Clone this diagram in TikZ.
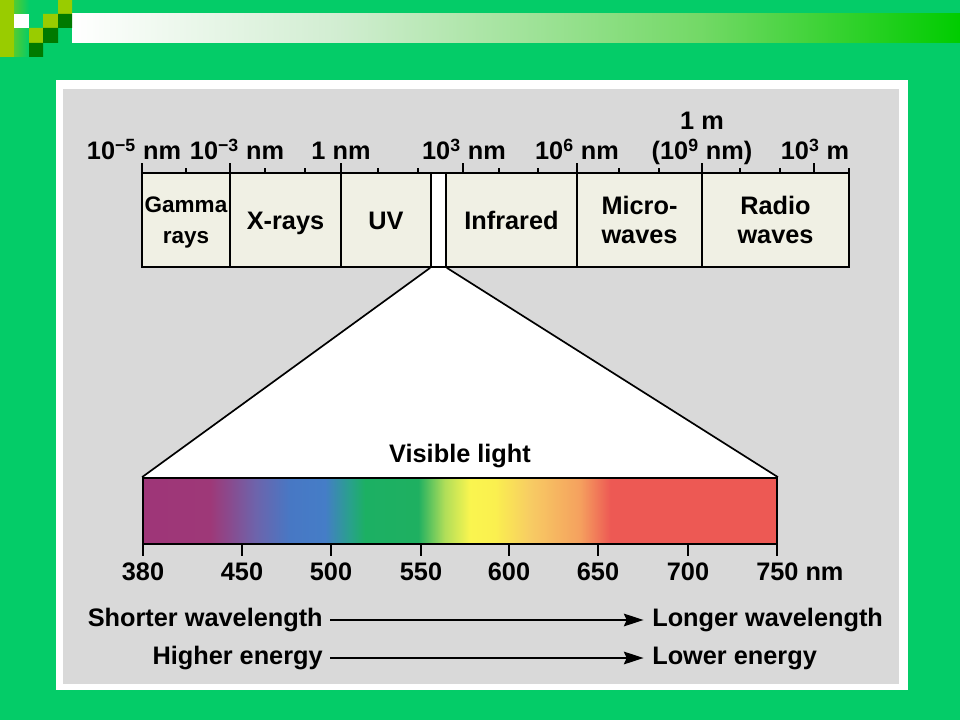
\documentclass[tikz,border=0pt]{standalone}
\usepackage{fontspec}
\setmainfont{Liberation Sans}
\usepackage{xcolor}
\usepackage{tikz}
\usetikzlibrary{arrows.meta, backgrounds}
\definecolor{cgreen} {RGB}{4,204,104}
\definecolor{clime}  {RGB}{153,204,0}
\definecolor{cdark}  {RGB}{0,122,0}
\definecolor{cpanel} {RGB}{217,217,217}
\definecolor{ccream} {RGB}{240,240,228}
\pgfdeclarehorizontalshading{visspec}{100bp}{%
  rgb(0bp)=(.62,.21,.47); rgb(25bp)=(.62,.21,.47); rgb(30.3bp)=(.62,.22,.47);
  rgb(33.85bp)=(.43,.39,.67); rgb(36.6bp)=(.28,.47,.77); rgb(39.35bp)=(.27,.49,.78);
  rgb(41.3bp)=(.16,.63,.55); rgb(42.5bp)=(.11,.69,.39); rgb(46.7bp)=(.12,.69,.38);
  rgb(48.8bp)=(.69,.87,.35); rgb(50.8bp)=(.98,.96,.31); rgb(52.75bp)=(.98,.94,.31);
  rgb(55.5bp)=(.97,.80,.39); rgb(59.45bp)=(.96,.63,.37); rgb(61.85bp)=(.93,.35,.33);
  rgb(75bp)=(.93,.35,.33); rgb(100bp)=(.93,.35,.33)}
\pgfdeclarehorizontalshading{stripe}{100bp}{%
  rgb(0bp)=(1,1,1); rgb(25bp)=(1,1,1); rgb(40bp)=(.82,.93,.82);
  rgb(60.4bp)=(.45,.85,.4); rgb(75bp)=(0,.8,0); rgb(100bp)=(0,.8,0)}
\tikzset{
  band/.style={rectangle, draw, line width=1.2pt, fill=ccream,
               minimum height=2.35cm, inner sep=0pt, align=center,
               font=\fontsize{18}{20}\selectfont\bfseries},
  one/.style={text height=13pt, text depth=0pt},
  wl/.style={font=\fontsize{18}{21}\selectfont\bfseries, anchor=base, inner sep=0pt},
  lbl/.style={font=\fontsize{18}{21}\selectfont\bfseries, inner sep=0pt,
              text height=13pt, text depth=4pt},
  tick/.style={line width=1.2pt},
  edge/.style={line width=1.2pt},
  arr/.style={-{Stealth[length=14pt,width=9pt,inset=2pt]}, line width=1.3pt,
              shorten <=5pt, shorten >=6pt},
}

\begin{document}
\begin{tikzpicture}[x=0.025cm, y=-0.025cm]
  \useasboundingbox (0,0) rectangle (960,720);

  % ── Spectrum bands ─────────────────────────────────────────────────────────
  \node[band, minimum width=2.2cm, text depth=-8pt,
        font=\fontsize{16}{22.5}\selectfont\bfseries]
        at (186,220)   (gamma) {Gamma\\rays};
  \node[band, one, minimum width=2.775cm] at (285.5,220) (xray)  {X-rays};
  \node[band, one, minimum width=2.25cm]  at (386,220)   (uv)    {UV};
  \node[band, minimum width=0.375cm, fill=white] at (438.5,220) (gap) {};
  \node[band, one, minimum width=3.275cm] at (511.5,220) (ir)    {Infrared};
  \node[band, minimum width=3.125cm] at (639.5,220) (micro) {Micro-\\waves};
  \node[band, minimum width=3.675cm] at (775.5,220) (radio) {Radio\\waves};

  % ── Wavelength scale ───────────────────────────────────────────────────────
  \foreach \x in {142,230,341,463,577,702,814}
    \draw[tick] (\x,173) -- ++(0,-10);
  \foreach \x in {186,265,305,378,418,499,538,619,659,740,780,849}
    \draw[tick] (\x,173) -- ++(0,-5);
  \node[wl] at (134,160) (s1) {10\textsuperscript{−5} nm};
  \node[wl] at (237,160) (s2) {10\textsuperscript{−3} nm};
  \node[wl] at (341,160) (s3) {1 nm};
  \node[wl] at (464,160) (s4) {10\textsuperscript{3} nm};
  \node[wl] at (577,160) (s5) {10\textsuperscript{6} nm};
  \node[wl] at (702,160) (s6) {(10\textsuperscript{9} nm)};
  \node[wl] at (702,130) (s7) {1 m};
  \node[wl] at (815,160) (s8) {10\textsuperscript{3} m};

  % ── Visible band ───────────────────────────────────────────────────────────
  \node[rectangle, draw, line width=1.2pt, shading=visspec,
        minimum width=15.85cm, minimum height=1.65cm, inner sep=0pt]
        at (460,511) (bar) {};
  \node[wl] at (460,463) (vis) {Visible light};
  \draw[edge] (gap.south west) -- (bar.north west);
  \draw[edge] (gap.south east) -- (bar.north east);

  \foreach \x/\n in {143/380,242/450,331/500,421/550,509/600,598/650,688/700}{
    \draw[tick] (\x,544) -- ++(0,12);
    \node[wl] at (\x,580) (n\n) {\n};
  }
  \draw[tick] (777,544) -- ++(0,12);
  \node[wl, anchor=base west] at (756,580) (n750) {750 nm};

  % ── Direction arrows ───────────────────────────────────────────────────────
  \node[lbl, anchor=east] at (323,620) (sw) {Shorter wavelength};
  \node[lbl, anchor=west] at (652,620) (lw) {Longer wavelength};
  \node[lbl, anchor=east] at (323,658) (he) {Higher energy};
  \node[lbl, anchor=west] at (652,658) (le) {Lower energy};
  \draw[arr] (sw) -- (lw);
  \draw[arr] (he) -- (le);

  % ── Slide background ───────────────────────────────────────────────────────
  \begin{scope}[on background layer]
    \fill[cgreen] (0,0) rectangle (960,720);
    \shade[shading=stripe] (72,14) rectangle (960,43);
    \shade[left color=clime, right color=cgreen] (0,0) rectangle (29,57);
    \fill[clime] (0,0) rectangle (14,57);
    \fill[white] (14,14) rectangle (29,28);
    \fill[clime] (58,0) rectangle (72,14) (43,14) rectangle (58,28)
                 (29,28) rectangle (43,43);
    \fill[cdark] (58,14) rectangle (72,28) (43,28) rectangle (58,43)
                 (29,43) rectangle (43,57);
    \fill[white] (56,80) rectangle (908,690);
    \fill[cpanel] (63,89) rectangle (899,684);
    \fill[white] (gap.south west) -- (bar.north west) -- (bar.north east)
                 -- (gap.south east) -- cycle;
  \end{scope}
\end{tikzpicture}
\end{document}
